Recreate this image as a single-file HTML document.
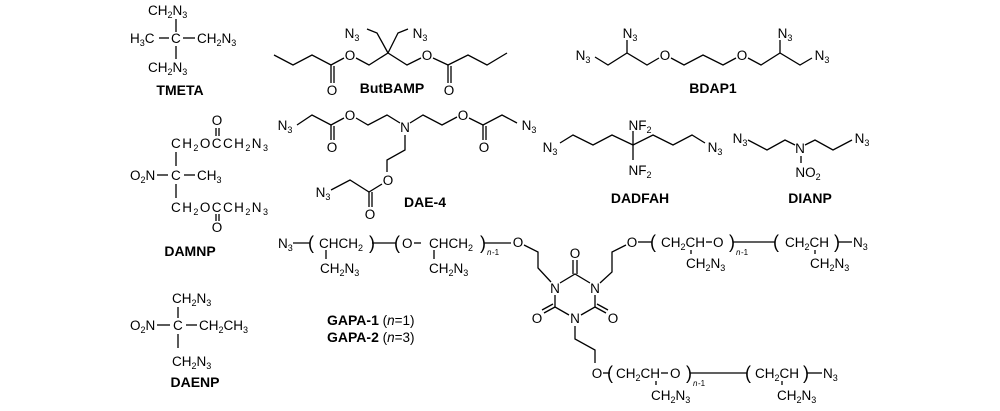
<!DOCTYPE html>
<html><head><meta charset="utf-8"><style>
html,body{margin:0;padding:0;background:#fff;}
svg{display:block;font-family:"Liberation Sans",sans-serif;font-size:13.5px;fill:#000}
.b{font-weight:bold;font-size:14px}
line,polyline,path{stroke:#000;stroke-width:1.3;fill:none}
tspan.s{font-size:9px}
</style></head><body>
<svg width="1000" height="411" viewBox="0 0 1000 411">
<!-- TMETA -->
<text x="148" y="15">CH<tspan class="s" dy="3">2</tspan><tspan dy="-3">N</tspan><tspan class="s" dy="3">3</tspan></text>
<text x="130" y="43">H<tspan class="s" dy="3">3</tspan><tspan dy="-3">C</tspan></text>
<text x="171" y="43">C</text>
<text x="197" y="43">CH<tspan class="s" dy="3">2</tspan><tspan dy="-3">N</tspan><tspan class="s" dy="3">3</tspan></text>
<text x="148" y="72">CH<tspan class="s" dy="3">2</tspan><tspan dy="-3">N</tspan><tspan class="s" dy="3">3</tspan></text>
<line x1="176" y1="19" x2="176" y2="32"/><line x1="176" y1="46" x2="176" y2="59"/>
<line x1="159" y1="38" x2="169" y2="38"/><line x1="183" y1="38" x2="195" y2="38"/>
<text class="b" x="180" y="95" text-anchor="middle">TMETA</text>
<!-- ButBAMP -->
<polyline points="274,55 293,65 312,55 331,65 344,58"/>
<line x1="331" y1="65" x2="331" y2="83"/><line x1="334" y1="66" x2="334" y2="83"/>
<text x="332" y="95" text-anchor="middle">O</text>
<text x="350" y="60" text-anchor="middle">O</text>
<polyline points="356,58 369,65 388,53 407,65 421,58"/>
<polyline points="388,53 377,33 367,29"/><polyline points="388,53 398,33 408,29"/>
<text x="352" y="38" text-anchor="middle">N<tspan class="s" dy="3">3</tspan></text>
<text x="420" y="38" text-anchor="middle">N<tspan class="s" dy="3">3</tspan></text>
<text x="427" y="60" text-anchor="middle">O</text>
<polyline points="433,58 448,65 468,55 487,65 507,53"/>
<line x1="448" y1="65" x2="448" y2="83"/><line x1="451" y1="66" x2="451" y2="83"/>
<text x="449" y="95" text-anchor="middle">O</text>
<text class="b" x="392" y="93" text-anchor="middle">ButBAMP</text>
<!-- BDAP1 -->
<text x="583" y="60" text-anchor="middle">N<tspan class="s" dy="3">3</tspan></text>
<polyline points="595,57 608,65 627,53 647,65 659,58"/>
<line x1="627" y1="53" x2="627" y2="40"/>
<text x="630" y="38" text-anchor="middle">N<tspan class="s" dy="3">3</tspan></text>
<text x="665" y="60" text-anchor="middle">O</text>
<polyline points="671,58 684,65 703,55 723,65 736,58"/>
<text x="742" y="60" text-anchor="middle">O</text>
<polyline points="748,58 761,65 780,53 800,65 812,58"/>
<line x1="780" y1="53" x2="780" y2="40"/>
<text x="785" y="38" text-anchor="middle">N<tspan class="s" dy="3">3</tspan></text>
<text x="822" y="60" text-anchor="middle">N<tspan class="s" dy="3">3</tspan></text>
<text class="b" x="713" y="93" text-anchor="middle">BDAP1</text>
<!-- DAMNP -->
<text x="217" y="125" text-anchor="middle">O</text>
<line x1="216" y1="128" x2="216" y2="136"/><line x1="219" y1="128" x2="219" y2="136"/>
<text x="171" y="148" textLength="97">CH<tspan class="s" dy="3">2</tspan><tspan dy="-3">OCCH</tspan><tspan class="s" dy="3">2</tspan><tspan dy="-3">N</tspan><tspan class="s" dy="3">3</tspan></text>
<line x1="176" y1="152" x2="176" y2="166"/><line x1="176" y1="184" x2="176" y2="198"/>
<text x="130" y="180">O<tspan class="s" dy="3">2</tspan><tspan dy="-3">N</tspan></text>
<line x1="157" y1="175" x2="168" y2="175"/><line x1="184" y1="175" x2="195" y2="175"/>
<text x="171" y="180">C</text>
<text x="197" y="180">CH<tspan class="s" dy="3">3</tspan></text>
<text x="171" y="212" textLength="97">CH<tspan class="s" dy="3">2</tspan><tspan dy="-3">OCCH</tspan><tspan class="s" dy="3">2</tspan><tspan dy="-3">N</tspan><tspan class="s" dy="3">3</tspan></text>
<line x1="216" y1="214" x2="216" y2="221"/><line x1="219" y1="214" x2="219" y2="221"/>
<text x="217" y="232" text-anchor="middle">O</text>
<text class="b" x="190" y="256" text-anchor="middle">DAMNP</text>
<!-- DAE-4 -->
<text x="285" y="130" text-anchor="middle">N<tspan class="s" dy="3">3</tspan></text>
<polyline points="297,125 312,115 331,125 344,118"/>
<line x1="331" y1="125" x2="331" y2="140"/><line x1="334" y1="126" x2="334" y2="140"/>
<text x="332" y="152" text-anchor="middle">O</text>
<text x="350" y="120" text-anchor="middle">O</text>
<polyline points="356,118 368,125 387,115 400,123"/>
<text x="405" y="132" text-anchor="middle">N</text>
<polyline points="410,123 423,115 442,125 457,117"/>
<text x="463" y="120" text-anchor="middle">O</text>
<polyline points="469,118 483,125 502,115 517,123"/>
<line x1="483" y1="125" x2="483" y2="140"/><line x1="486" y1="126" x2="486" y2="140"/>
<text x="484" y="152" text-anchor="middle">O</text>
<text x="529" y="130" text-anchor="middle">N<tspan class="s" dy="3">3</tspan></text>
<polyline points="405,135 405,150 387,160 387,172"/>
<text x="388" y="185" text-anchor="middle">O</text>
<polyline points="382,184 369,192 350,180 331,190"/>
<line x1="369" y1="192" x2="369" y2="207"/><line x1="372" y1="192" x2="372" y2="207"/>
<text x="370" y="219" text-anchor="middle">O</text>
<text x="323" y="197" text-anchor="middle">N<tspan class="s" dy="3">3</tspan></text>
<text class="b" x="425" y="207" text-anchor="middle">DAE-4</text>
<!-- DADFAH -->
<text x="550" y="152" text-anchor="middle">N<tspan class="s" dy="3">3</tspan></text>
<polyline points="560,143 573,135 593,145 612,135 633,145 653,135 673,145 692,135 705,143"/>
<line x1="633" y1="131" x2="633" y2="160"/>
<text x="640" y="130" text-anchor="middle">NF<tspan class="s" dy="3">2</tspan></text>
<text x="640" y="175" text-anchor="middle">NF<tspan class="s" dy="3">2</tspan></text>
<text x="715" y="152" text-anchor="middle">N<tspan class="s" dy="3">3</tspan></text>
<text class="b" x="640" y="203" text-anchor="middle">DADFAH</text>
<!-- DIANP -->
<text x="740" y="143" text-anchor="middle">N<tspan class="s" dy="3">3</tspan></text>
<polyline points="748,140 767,150 785,140 795,145"/>
<text x="800" y="153" text-anchor="middle">N</text>
<polyline points="805,145 815,140 833,150 852,140"/>
<text x="862" y="143" text-anchor="middle">N<tspan class="s" dy="3">3</tspan></text>
<line x1="801" y1="156" x2="801" y2="163"/>
<text x="808" y="177" text-anchor="middle">NO<tspan class="s" dy="3">2</tspan></text>
<text class="b" x="810" y="203" text-anchor="middle">DIANP</text>
<!-- DAENP -->
<text x="172" y="303">CH<tspan class="s" dy="3">2</tspan><tspan dy="-3">N</tspan><tspan class="s" dy="3">3</tspan></text>
<line x1="178" y1="307" x2="178" y2="318"/><line x1="178" y1="334" x2="178" y2="348"/>
<text x="130" y="330">O<tspan class="s" dy="3">2</tspan><tspan dy="-3">N</tspan></text>
<line x1="157" y1="325" x2="170" y2="325"/><line x1="186" y1="325" x2="197" y2="325"/>
<text x="173" y="330">C</text>
<text x="199" y="330">CH<tspan class="s" dy="3">2</tspan><tspan dy="-3">CH</tspan><tspan class="s" dy="3">3</tspan></text>
<text x="172" y="366">CH<tspan class="s" dy="3">2</tspan><tspan dy="-3">N</tspan><tspan class="s" dy="3">3</tspan></text>
<text class="b" x="195" y="387" text-anchor="middle">DAENP</text>
<!-- GAPA labels -->
<text x="327" y="325"><tspan class="b">GAPA-1</tspan> (<tspan font-style="italic">n</tspan>=1)</text>
<text x="327" y="342"><tspan class="b">GAPA-2</tspan> (<tspan font-style="italic">n</tspan>=3)</text>
<!-- GAP left chain -->
<text x="278" y="248">N<tspan class="s" dy="3">3</tspan></text>
<line x1="293" y1="243" x2="310" y2="243"/>
<text x="308" y="249" font-size="18">(</text>
<text x="319" y="248">CHCH<tspan class="s" dy="3">2</tspan></text>
<text x="369" y="249" font-size="18">)</text>
<line x1="372" y1="243" x2="396" y2="243"/>
<text x="394" y="249" font-size="18">(</text>
<text x="402" y="248">O</text>
<line x1="414" y1="243" x2="421" y2="243"/>
<text x="429" y="248">CHCH<tspan class="s" dy="3">2</tspan></text>
<text x="480" y="249" font-size="18">)</text>
<text x="487" y="255" font-size="8" font-style="italic">n</text><text x="492" y="255" font-size="8">-1</text>
<line x1="484" y1="243" x2="511" y2="243"/>
<line x1="326" y1="250" x2="326" y2="259"/><line x1="434" y1="250" x2="434" y2="259"/>
<text x="320" y="273">CH<tspan class="s" dy="3">2</tspan><tspan dy="-3">N</tspan><tspan class="s" dy="3">3</tspan></text>
<text x="429" y="273">CH<tspan class="s" dy="3">2</tspan><tspan dy="-3">N</tspan><tspan class="s" dy="3">3</tspan></text>
<text x="518" y="247" text-anchor="middle">O</text>
<!-- ring -->
<polyline points="524,245 538,252 538,268 551,282"/>
<text x="555" y="293" text-anchor="middle">N</text>
<text x="595" y="293" text-anchor="middle">N</text>
<text x="575" y="323" text-anchor="middle">N</text>
<polyline points="560,283 575,274 590,283"/>
<line x1="573" y1="274" x2="573" y2="260"/><line x1="577" y1="274" x2="577" y2="260"/>
<text x="575" y="258" text-anchor="middle">O</text>
<polyline points="595,295 595,307 581,315"/>
<polyline points="555,295 555,307 569,315"/>
<line x1="595" y1="307" x2="606" y2="313"/><line x1="597" y1="304" x2="608" y2="310"/>
<line x1="555" y1="307" x2="544" y2="313"/><line x1="553" y1="304" x2="542" y2="310"/>
<text x="613" y="323" text-anchor="middle">O</text>
<text x="537" y="323" text-anchor="middle">O</text>
<polyline points="600,283 612,272 612,252 626,245"/>
<text x="632" y="247" text-anchor="middle">O</text>
<polyline points="575,326 575,339 595,350 595,363"/>
<text x="597" y="378" text-anchor="middle">O</text>
<!-- top right chain -->
<line x1="638" y1="242" x2="652" y2="242"/>
<text x="650" y="248" font-size="18">(</text>
<text x="661" y="247">CH<tspan class="s" dy="3">2</tspan><tspan dy="-3">CH</tspan></text>
<line x1="706" y1="242" x2="712" y2="242"/>
<text x="713" y="247">O</text>
<text x="729" y="248" font-size="18">)</text>
<text x="736" y="255" font-size="8" font-style="italic">n</text><text x="741" y="255" font-size="8">-1</text>
<line x1="733" y1="242" x2="775" y2="242"/>
<text x="773" y="248" font-size="18">(</text>
<text x="785" y="247">CH<tspan class="s" dy="3">2</tspan><tspan dy="-3">CH</tspan></text>
<text x="834" y="248" font-size="18">)</text>
<line x1="838" y1="242" x2="852" y2="242"/>
<text x="853" y="247">N<tspan class="s" dy="3">3</tspan></text>
<line x1="691" y1="250" x2="691" y2="254"/><line x1="815" y1="250" x2="815" y2="254"/>
<text x="686" y="268">CH<tspan class="s" dy="3">2</tspan><tspan dy="-3">N</tspan><tspan class="s" dy="3">3</tspan></text>
<text x="810" y="268">CH<tspan class="s" dy="3">2</tspan><tspan dy="-3">N</tspan><tspan class="s" dy="3">3</tspan></text>
<!-- bottom chain -->
<line x1="603" y1="373" x2="610" y2="373"/>
<text x="607" y="379" font-size="18">(</text>
<text x="616" y="378">CH<tspan class="s" dy="3">2</tspan><tspan dy="-3">CH</tspan></text>
<line x1="661" y1="373" x2="668" y2="373"/>
<text x="670" y="378">O</text>
<text x="686" y="379" font-size="18">)</text>
<text x="693" y="386" font-size="8" font-style="italic">n</text><text x="698" y="386" font-size="8">-1</text>
<line x1="690" y1="373" x2="747" y2="373"/>
<text x="745" y="379" font-size="18">(</text>
<text x="755" y="378">CH<tspan class="s" dy="3">2</tspan><tspan dy="-3">CH</tspan></text>
<text x="803" y="379" font-size="18">)</text>
<line x1="807" y1="373" x2="822" y2="373"/>
<text x="823" y="378">N<tspan class="s" dy="3">3</tspan></text>
<line x1="656" y1="381" x2="656" y2="385"/><line x1="782" y1="381" x2="782" y2="385"/>
<text x="651" y="400">CH<tspan class="s" dy="3">2</tspan><tspan dy="-3">N</tspan><tspan class="s" dy="3">3</tspan></text>
<text x="777" y="400">CH<tspan class="s" dy="3">2</tspan><tspan dy="-3">N</tspan><tspan class="s" dy="3">3</tspan></text>
</svg>
</body></html>
